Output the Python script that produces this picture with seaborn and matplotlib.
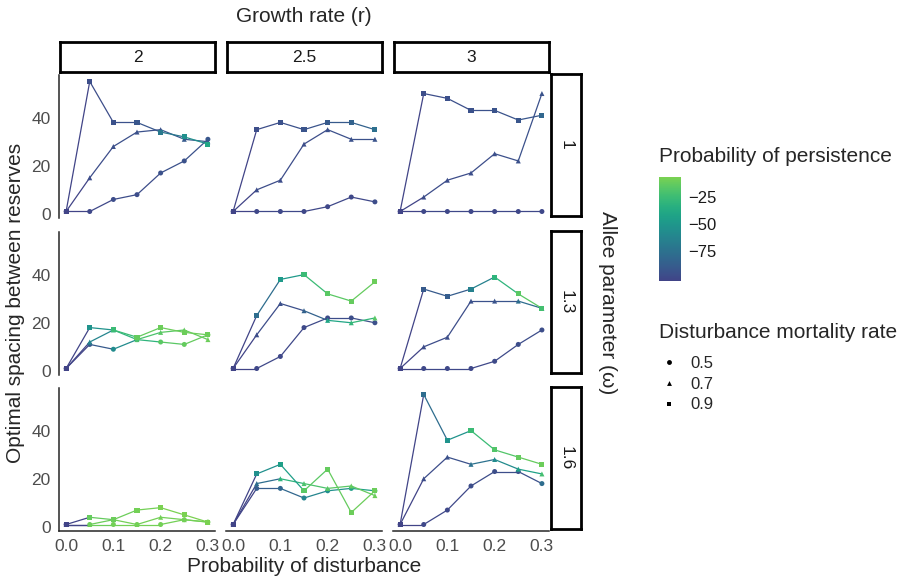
import matplotlib
matplotlib.use("Agg")
import matplotlib.pyplot as plt
from matplotlib.collections import LineCollection
from matplotlib.colors import ListedColormap, Normalize
from matplotlib.lines import Line2D
import numpy as np
import pandas as pd
import seaborn as sns

sns.set_style("white")
plt.rcParams["font.family"] = ["Liberation Sans", "DejaVu Sans"]

## Part 0: data
disturbance = [0.0, 0.05, 0.1, 0.15, 0.2, 0.25, 0.3]
growth_rates = ["2", "2.5", "3"]
allee = ["1", "1.3", "1.6"]
mortality = ["0.5", "0.7", "0.9"]

# rows of each panel: mortality 0.5, 0.7, 0.9
spacing_a1_r2 = [[1, 1, 6, 8, 17, 22, 31],
                 [1, 15, 28, 34, 35, 31, 30],
                 [1, 55, 38, 38, 34, 32, 29]]
persist_a1_r2 = [[-103, -100, -98, -98, -95, -95, -92],
                 [-103, -98, -96, -95, -93, -90, -88],
                 [-103, -97, -95, -92, -70, -55, -40]]

spacing_a1_r25 = [[1, 1, 1, 1, 3, 7, 5],
                  [1, 10, 14, 29, 35, 31, 31],
                  [1, 35, 38, 35, 38, 38, 35]]
persist_a1_r25 = [[-103, -100, -100, -100, -100, -100, -98],
                  [-103, -98, -98, -97, -96, -95, -94],
                  [-103, -97, -95, -93, -90, -85, -76]]

spacing_a1_r3 = [[1, 1, 1, 1, 1, 1, 1],
                 [1, 7, 14, 17, 25, 22, 50],
                 [1, 50, 48, 43, 43, 39, 41]]
persist_a1_r3 = [[-103, -100, -100, -100, -100, -100, -100],
                 [-103, -98, -98, -97, -96, -95, -94],
                 [-103, -97, -96, -95, -94, -92, -82]]

spacing_a13_r2 = [[1, 11, 9, 13, 12, 11, 15],
                  [1, 12, 17, 13, 16, 17, 13],
                  [1, 18, 17, 14, 18, 16, 15]]
persist_a13_r2 = [[-103, -90, -58, -30, -15, -12, -10],
                  [-103, -62, -30, -20, -15, -12, -10],
                  [-103, -52, -25, -12, -10, -10, -10]]

spacing_a13_r25 = [[1, 1, 6, 18, 22, 22, 20],
                   [1, 15, 28, 25, 21, 20, 22],
                   [1, 23, 38, 40, 32, 29, 37]]
persist_a13_r25 = [[-103, -100, -100, -99, -98, -97, -96],
                   [-103, -98, -96, -85, -40, -28, -15],
                   [-103, -78, -48, -25, -15, -12, -10]]

spacing_a13_r3 = [[1, 1, 1, 1, 4, 11, 17],
                  [1, 10, 14, 29, 29, 29, 26],
                  [1, 34, 31, 34, 39, 32, 26]]
persist_a13_r3 = [[-103, -100, -100, -100, -99, -98, -97],
                  [-103, -98, -97, -95, -93, -78, -65],
                  [-103, -90, -88, -65, -30, -15, -22]]

spacing_a16_r2 = [[1, 1, 1, 1, 1, 3, 2],
                  [1, 1, 3, 1, 4, 3, 2],
                  [1, 4, 3, 7, 8, 5, 2]]
persist_a16_r2 = [[-103, -10, -8, -8, -8, -8, -8],
                  [-103, -10, -8, -8, -8, -8, -8],
                  [-103, -12, -10, -8, -6, -6, -6]]

spacing_a16_r25 = [[1, 16, 16, 12, 15, 16, 15],
                   [1, 18, 20, 18, 16, 17, 13],
                   [1, 22, 26, 15, 24, 6, 15]]
persist_a16_r25 = [[-103, -88, -82, -62, -55, -45, -30],
                   [-103, -78, -30, -20, -15, -12, -10],
                   [-103, -55, -45, -15, -12, -10, -10]]

spacing_a16_r3 = [[1, 1, 7, 17, 23, 23, 18],
                  [1, 20, 29, 26, 28, 24, 22],
                  [1, 55, 36, 40, 32, 29, 26]]
persist_a16_r3 = [[-103, -100, -100, -98, -97, -95, -78],
                  [-103, -98, -95, -75, -58, -42, -22],
                  [-103, -78, -52, -25, -18, -12, -10]]

panels = {
    ("1", "2"): (spacing_a1_r2, persist_a1_r2),
    ("1", "2.5"): (spacing_a1_r25, persist_a1_r25),
    ("1", "3"): (spacing_a1_r3, persist_a1_r3),
    ("1.3", "2"): (spacing_a13_r2, persist_a13_r2),
    ("1.3", "2.5"): (spacing_a13_r25, persist_a13_r25),
    ("1.3", "3"): (spacing_a13_r3, persist_a13_r3),
    ("1.6", "2"): (spacing_a16_r2, persist_a16_r2),
    ("1.6", "2.5"): (spacing_a16_r25, persist_a16_r25),
    ("1.6", "3"): (spacing_a16_r3, persist_a16_r3),
}

rows = []
for (a, r), (sp, pe) in panels.items():
    for m, ys, ps in zip(mortality, sp, pe):
        for x, y, p in zip(disturbance, ys, ps):
            rows.append({"allee": a, "r": r, "mortality": m,
                         "disturbance": x, "spacing": y, "persistence": p})
df = pd.DataFrame(rows)

## Part 1: figure layout (pixel based, 911x584)
W, H = 911, 584
fig = plt.figure(figsize=(W / 100, H / 100), dpi=100)

cmap = ListedColormap(sns.color_palette("viridis", as_cmap=True)(np.linspace(0.2, 0.8, 256)))
norm = Normalize(vmin=df["persistence"].min(), vmax=df["persistence"].max())
shape_map = {"0.5": "o", "0.7": "^", "0.9": "s"}

TITLE_FS = 15
TICK_FS = 12.5


def px_rect(left, top, width, height):
    return [left / W, (H - top - height) / H, width / W, height / H]


col_left = [59, 226, 393]
row_top = [75, 232, 388]
pw, ph = 156, 143

for i, a in enumerate(allee):
    for j, r in enumerate(growth_rates):
        ax = fig.add_axes(px_rect(col_left[j], row_top[i], pw, ph))
        sub = df[(df["allee"] == a) & (df["r"] == r)]
        for m in mortality:
            s = sub[sub["mortality"] == m]
            pts = s[["disturbance", "spacing"]].to_numpy()
            segs = np.stack([pts[:-1], pts[1:]], axis=1)
            lc = LineCollection(segs, colors=cmap(norm(s["persistence"].to_numpy()[:-1])),
                                linewidths=0.9, zorder=2)
            ax.add_collection(lc)
        sns.scatterplot(data=sub, x="disturbance", y="spacing", hue="persistence",
                        hue_norm=norm, palette=cmap, style="mortality",
                        markers=shape_map, s=13, linewidth=0, legend=False,
                        ax=ax, zorder=3)
        ax.set_xlim(-0.015, 0.315)
        ax.set_ylim(-1.7, 57.7)
        ax.set_xlabel("")
        ax.set_ylabel("")
        for sp in ax.spines.values():
            sp.set_visible(False)
        ax.set_xticks([0, 0.1, 0.2, 0.3])
        ax.set_yticks([0, 20, 40])
        ax.tick_params(colors="#333333", labelcolor="#4D4D4D", labelsize=TICK_FS,
                       length=3, width=0.9, pad=3)
        if j == 0:
            ax.spines["left"].set_visible(True)
            ax.spines["left"].set_linewidth(1.1)
        else:
            ax.tick_params(axis="y", left=False, labelleft=False)
        if i == 2:
            ax.spines["bottom"].set_visible(True)
            ax.spines["bottom"].set_linewidth(1.1)
            ax.set_xticklabels(["0.0", "0.1", "0.2", "0.3"])
        else:
            ax.tick_params(axis="x", bottom=False, labelbottom=False)

# strips
for j, r in enumerate(growth_rates):
    sax = fig.add_axes(px_rect(col_left[j] + 1, 42, pw - 1, 30))
    sax.set_xticks([])
    sax.set_yticks([])
    for sp in sax.spines.values():
        sp.set_linewidth(2)
        sp.set_color("black")
    sax.text(0.5, 0.5, r, ha="center", va="center", fontsize=12.5, color="#1A1A1A",
             transform=sax.transAxes)

for i, a in enumerate(allee):
    sax = fig.add_axes(px_rect(551, row_top[i] - 1, 30, ph - 1))
    sax.set_xticks([])
    sax.set_yticks([])
    for sp in sax.spines.values():
        sp.set_linewidth(2)
        sp.set_color("black")
    sax.text(0.5, 0.5, a, ha="center", va="center", fontsize=12.5, color="#1A1A1A",
             rotation=-90, transform=sax.transAxes)

fig.text(304 / W, 1 - 17 / H, "Growth rate (r)", ha="center", va="center", fontsize=TITLE_FS)
fig.text(304 / W, 1 - 567 / H, "Probability of disturbance", ha="center", va="center",
         fontsize=TITLE_FS)
fig.text(16 / W, 1 - 303 / H, "Optimal spacing between reserves", ha="center", va="center",
         rotation=90, fontsize=TITLE_FS)
fig.text(607 / W, 1 - 303 / H, "Allee parameter (\u03c9)", ha="center", va="center",
         rotation=-90, fontsize=TITLE_FS)

## Part 2: legends
cax = fig.add_axes(px_rect(659, 177, 22, 104))
sm = plt.cm.ScalarMappable(norm=norm, cmap=cmap)
cb = fig.colorbar(sm, cax=cax, ticks=[-75, -50, -25])
cb.outline.set_visible(False)
cb.ax.set_yticklabels(["\u221275", "\u221250", "\u221225"])
cb.ax.tick_params(axis="y", left=True, right=True, direction="in", color="white",
                  length=4, width=0.8, labelsize=12, labelcolor="#1A1A1A", pad=5)
fig.text(659 / W, 1 - 157 / H, "Probability of persistence", ha="left", va="center",
         fontsize=TITLE_FS)

fig.text(659 / W, 1 - 333 / H, "Disturbance mortality rate", ha="left", va="center",
         fontsize=TITLE_FS)
handles = [Line2D([], [], linestyle="none", marker=shape_map[m], color="black",
                  markersize=3.5, markeredgewidth=0) for m in mortality]
leg = fig.legend(handles, mortality, loc="upper left",
                 bbox_to_anchor=(659 / W, 1 - 356 / H), frameon=False, fontsize=12,
                 handlelength=1.2, handletextpad=0.7,
                 labelspacing=0.34, borderaxespad=0, borderpad=0)

fig.savefig("out.png", dpi=100)
